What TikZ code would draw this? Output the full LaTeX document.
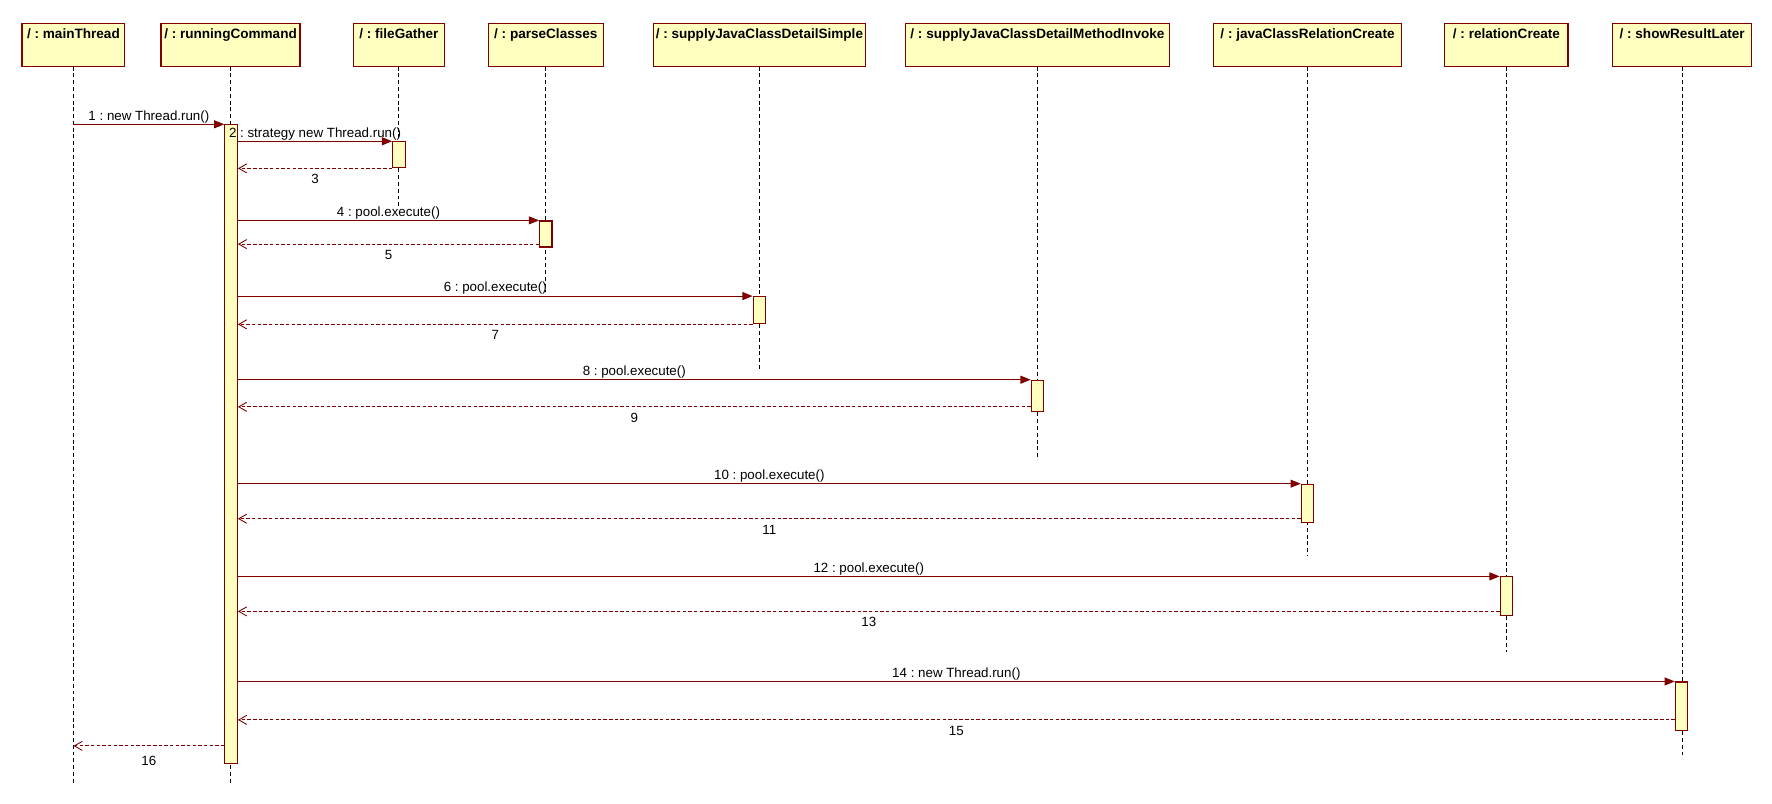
\documentclass[tikz,border=0pt]{standalone}
\usepackage{fontspec}
\setmainfont{Liberation Sans}
\usetikzlibrary{arrows.meta,calc}
\definecolor{umlred}{HTML}{800000}
\definecolor{umlfill}{HTML}{FFFFC0}
\frenchspacing
\begin{document}
\begin{tikzpicture}[x=1pt,y=-1pt,
  obj/.style={draw=umlred, fill=umlfill, line width=1pt, inner xsep=0pt, inner ysep=0pt,
    text height=13.3pt, text depth=24.7pt, anchor=north, font=\bfseries\fontsize{12}{14}\selectfont},
  actbar/.style={draw=umlred, fill=umlfill, line width=1pt, minimum width=11pt, inner sep=0pt, anchor=north},
  lifeline/.style={draw=black, line width=0.8pt, dash pattern=on 3.5pt off 2.5pt},
  call/.style={draw=umlred, line width=1pt, -{Triangle[length=9pt,width=7pt]}},
  ret/.style={draw=umlred, line width=0.9pt, dash pattern=on 3pt off 2pt,
    -{Straight Barb[length=7pt,width=8pt,line width=0.8pt]}},
  lbl/.style={font=\fontsize{11.8}{14}\selectfont, inner sep=0pt, anchor=base},
]
\useasboundingbox (0,0) rectangle (1568,710.6);

% object headers
\node[obj, minimum width=91pt]  (mt)  at (65,20)    {/ : mainThread};
\node[obj, minimum width=123pt] (rc)  at (204,20)   {/ : runningCommand};
\node[obj, minimum width=81pt]  (fg)  at (353,20)   {/ : fileGather};
\node[obj, minimum width=102pt] (pc)  at (483,20)   {/ : parseClasses};
\node[obj, minimum width=188pt] (sjs) at (672,20)   {/ : supplyJavaClassDetailSimple};
\node[obj, minimum width=234pt] (sjm) at (918,20)   {/ : supplyJavaClassDetailMethodInvoke};
\node[obj, minimum width=166pt] (jcr) at (1157,20)  {/ : javaClassRelationCreate};
\node[obj, minimum width=109pt] (rlc) at (1333,20)  {/ : relationCreate};
\node[obj, minimum width=123pt] (srl) at (1488.5,20){/ : showResultLater};

% lifelines
\draw[lifeline] (mt.south)  -- ++(0,634);
\draw[lifeline] (rc.south)  -- ++(0,634);
\draw[lifeline] (fg.south)  -- ++(0,124);
\draw[lifeline] (pc.south)  -- ++(0,199);
\draw[lifeline] (sjs.south) -- ++(0,269);
\draw[lifeline] (sjm.south) -- ++(0,348);
\draw[lifeline] (jcr.south) -- ++(0,433);
\draw[lifeline] (rlc.south) -- ++(0,518);
\draw[lifeline] (srl.south) -- ++(0,611);

% activation bars
\node[actbar, minimum height=565pt] (rcact) at (204.5,110) {};
\node[actbar, minimum height=23pt]  (a3)  at (353,125)  {};
\node[actbar, minimum height=23pt]  (a4)  at (483,195)  {};
\node[actbar, minimum height=24pt]  (a6)  at (672,262)  {};
\node[actbar, minimum height=28pt]  (a8)  at (918,336)  {};
\node[actbar, minimum height=34pt]  (a10) at (1157,428) {};
\node[actbar, minimum height=34pt]  (a12) at (1333,510) {};
\node[actbar, minimum height=43pt]  (a14) at (1488,603) {};

% return points
\coordinate (r3)  at (a3.south west);
\coordinate (r5)  at ($(a4.north west)+(0,21)$);
\coordinate (r7)  at (a6.south west);
\coordinate (r9)  at ($(a8.north west)+(0,24)$);
\coordinate (r11) at ($(a10.north west)+(0,31)$);
\coordinate (r13) at ($(a12.north west)+(0,31)$);
\coordinate (r15) at ($(a14.north west)+(0,34)$);
\coordinate (r16) at ($(rcact.north west)+(0,550)$);

% messages
\draw[call] (mt.south |- rcact.north) -- (rcact.north west)
  node[midway, lbl, yshift=3.7pt] {1 : new Thread.run()};
\draw[call] (rcact.east |- a3.north) -- (a3.north west)
  node[midway, lbl, yshift=3.7pt] {2 : strategy new Thread.run()};
\draw[ret] (r3) -- (rcact.east |- r3)
  node[midway, lbl, yshift=-13.7pt] {3};
\draw[call] (rcact.east |- a4.north) -- (a4.north west)
  node[midway, lbl, yshift=3.7pt] {4 : pool.execute()};
\draw[ret] (r5) -- (rcact.east |- r5)
  node[midway, lbl, yshift=-13.7pt] {5};
\draw[call] (rcact.east |- a6.north) -- (a6.north west)
  node[midway, lbl, yshift=3.7pt] {6 : pool.execute()};
\draw[ret] (r7) -- (rcact.east |- r7)
  node[midway, lbl, yshift=-13.7pt] {7};
\draw[call] (rcact.east |- a8.north) -- (a8.north west)
  node[midway, lbl, yshift=3.7pt] {8 : pool.execute()};
\draw[ret] (r9) -- (rcact.east |- r9)
  node[midway, lbl, yshift=-13.7pt] {9};
\draw[call] (rcact.east |- a10.north) -- (a10.north west)
  node[midway, lbl, yshift=3.7pt] {10 : pool.execute()};
\draw[ret] (r11) -- (rcact.east |- r11)
  node[midway, lbl, yshift=-13.7pt] {11};
\draw[call] (rcact.east |- a12.north) -- (a12.north west)
  node[midway, lbl, yshift=3.7pt] {12 : pool.execute()};
\draw[ret] (r13) -- (rcact.east |- r13)
  node[midway, lbl, yshift=-13.7pt] {13};
\draw[call] (rcact.east |- a14.north) -- (a14.north west)
  node[midway, lbl, yshift=3.7pt] {14 : new Thread.run()};
\draw[ret] (r15) -- (rcact.east |- r15)
  node[midway, lbl, yshift=-13.7pt] {15};
\draw[ret] (r16) -- (mt.south |- r16)
  node[midway, lbl, yshift=-17.3pt] {16};
\end{tikzpicture}
\end{document}
